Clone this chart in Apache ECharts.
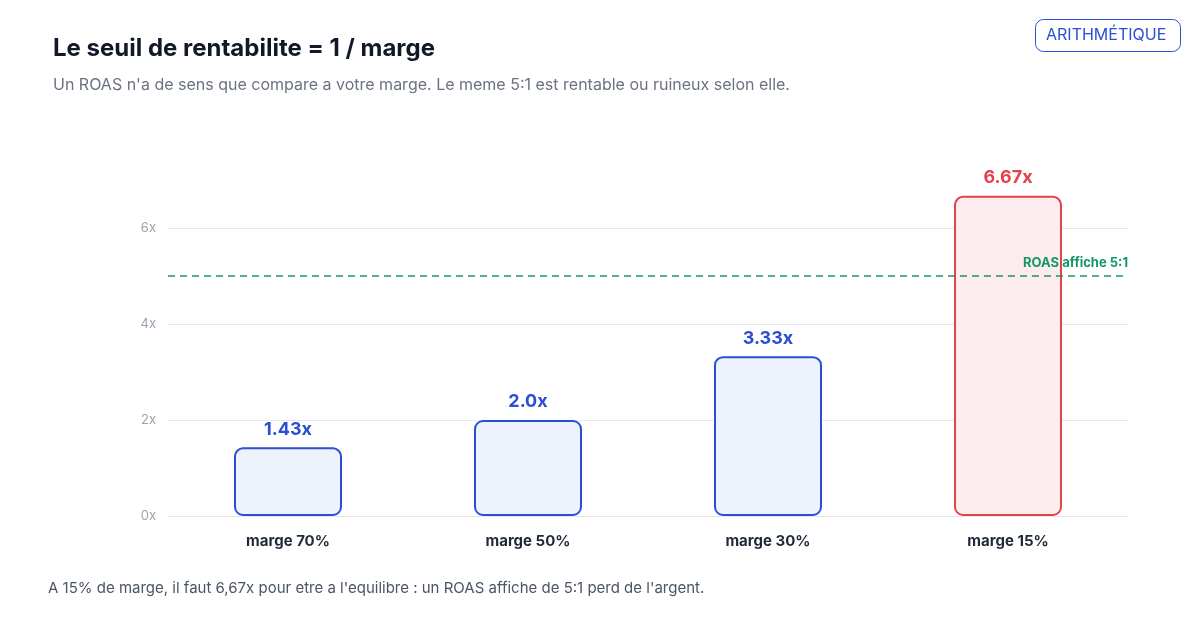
<!DOCTYPE html>
<html><head><meta charset="utf-8">
<script src="https://cdn.jsdelivr.net/npm/echarts@6/dist/echarts.min.js"></script>
<style>html,body{margin:0;background:#fff}#c{width:1200px;height:624px}</style>
</head><body><div id="c"></div>
<script>
var categories = ['marge 70%', 'marge 50%', 'marge 30%', 'marge 15%'];
var roasValues = [1.43, 2.0, 3.33, 6.67];
var valueLabels = ['1.43x', '2.0x', '3.33x', '6.67x'];
var highlight = [false, false, false, true];
var displayedRoas = 5;

var blue = '#2a4fd4', red = '#e2434b', green = '#13976a';
var chart = echarts.init(document.getElementById('c'));
var font = 'Inter, "Noto Sans", sans-serif';

chart.setOption({
  animation: false,
  textStyle: { fontFamily: font },
  title: {
    text: 'Le seuil de rentabilite = 1 / marge',
    subtext: "Un ROAS n'a de sens que compare a votre marge. Le meme 5:1 est rentable ou ruineux selon elle.",
    left: 48, top: 32, itemGap: 16,
    textStyle: { fontSize: 24, fontWeight: 'bold', color: '#111827', fontFamily: font },
    subtextStyle: { fontSize: 16, color: '#6b7280', fontFamily: font }
  },
  graphic: [
    { type: 'rect', left: 1035, top: 19, shape: { width: 145, height: 32, r: 8 },
      style: { fill: '#fff', stroke: blue, lineWidth: 1 } },
    { type: 'text', left: 1046, top: 27,
      style: { text: 'ARITHMÉTIQUE', fill: blue, fontSize: 16, fontFamily: font } },
    { type: 'text', left: 48, top: 581,
      style: { text: "A 15% de marge, il faut 6,67x pour etre a l'equilibre : un ROAS affiche de 5:1 perd de l'argent.",
        fill: '#4b5563', fontSize: 15, fontFamily: font } }
  ],
  grid: { left: 168, right: 72, top: 228, bottom: 108 },
  xAxis: {
    type: 'category', data: categories,
    axisLine: { show: false }, axisTick: { show: false },
    axisLabel: { color: '#1f2937', fontSize: 15, fontWeight: 'bold', margin: 18 }
  },
  yAxis: {
    type: 'value', min: 0, max: 6, interval: 2,
    axisLabel: { formatter: '{value}x', color: '#9ca3af', fontSize: 13, margin: 12 },
    splitLine: { lineStyle: { color: '#e5e7eb' } }
  },
  series: [{
    type: 'bar', barWidth: 108, clip: false,
    data: roasValues.map(function (v, i) {
      var c = highlight[i] ? red : blue;
      return {
        value: v,
        itemStyle: { color: highlight[i] ? '#fdeced' : '#eef2fd', borderColor: c, borderWidth: 2, borderRadius: 8 },
        label: { color: c }
      };
    }),
    label: {
      show: true, position: 'top', distance: 9, fontSize: 18, fontWeight: 'bold',
      formatter: function (p) { return valueLabels[p.dataIndex]; }
    },
    markLine: {
      silent: true, symbol: 'none',
      data: [{ yAxis: displayedRoas }],
      lineStyle: { color: green, type: [7, 5], width: 1.5 },
      label: { position: 'insideEndTop', formatter: 'ROAS affiche 5:1', color: green,
        fontSize: 13, fontWeight: 'bold', distance: [0, 6] }
    }
  }]
});
</script></body></html>
